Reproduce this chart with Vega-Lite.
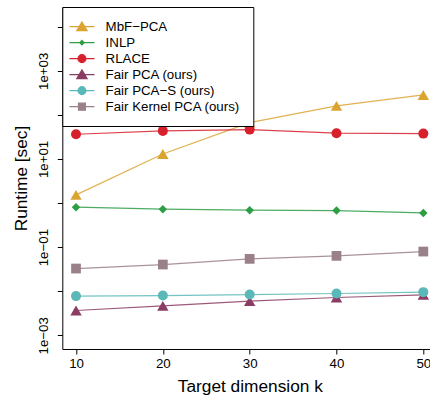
{
  "$schema": "https://vega.github.io/schema/vega-lite/v6.json",
  "width": 375,
  "height": 342,
  "autosize": {"type": "none"},
  "padding": {"left": 62.3, "top": 7, "right": 0, "bottom": 46},
  "background": "white",
  "config": {
    "view": {"stroke": null},
    "font": "Liberation Sans",
    "axis": {
      "domainColor": "black",
      "tickColor": "black",
      "domainWidth": 1,
      "tickWidth": 1,
      "tickSize": 5,
      "grid": false,
      "labelColor": "black",
      "labelFont": "Liberation Sans",
      "labelFontSize": 13.3,
      "titleColor": "black",
      "titleFont": "Liberation Sans",
      "titleFontSize": 17.3,
      "titleFontWeight": "normal",
      "labelFlush": false,
      "labelOverlap": false
    },
    "legend": {
      "padding": 13,
      "strokeColor": "black",
      "fillColor": "white",
      "cornerRadius": 0,
      "labelFont": "Liberation Sans",
      "labelFontSize": 13.3,
      "labelColor": "black",
      "labelOffset": 17,
      "rowPadding": 2,
      "symbolSize": 100,
      "symbolStrokeWidth": 1.1,
      "symbolOpacity": 1,
      "labelLimit": 300
    }
  },
  "data": {
    "values": [
      {"k": 10, "method": "MbF−PCA", "runtime": 1.53},
      {"k": 20, "method": "MbF−PCA", "runtime": 13.0},
      {"k": 30, "method": "MbF−PCA", "runtime": 66.7},
      {"k": 40, "method": "MbF−PCA", "runtime": 160},
      {"k": 50, "method": "MbF−PCA", "runtime": 283},
      {"k": 10, "method": "INLP", "runtime": 0.805},
      {"k": 20, "method": "INLP", "runtime": 0.726},
      {"k": 30, "method": "INLP", "runtime": 0.689},
      {"k": 40, "method": "INLP", "runtime": 0.675},
      {"k": 50, "method": "INLP", "runtime": 0.598},
      {"k": 10, "method": "RLACE", "runtime": 36.4},
      {"k": 20, "method": "RLACE", "runtime": 43.3},
      {"k": 30, "method": "RLACE", "runtime": 46.3},
      {"k": 40, "method": "RLACE", "runtime": 38.4},
      {"k": 50, "method": "RLACE", "runtime": 37.6},
      {"k": 10, "method": "Fair PCA (ours)", "runtime": 0.00365},
      {"k": 20, "method": "Fair PCA (ours)", "runtime": 0.00466},
      {"k": 30, "method": "Fair PCA (ours)", "runtime": 0.00596},
      {"k": 40, "method": "Fair PCA (ours)", "runtime": 0.0072},
      {"k": 50, "method": "Fair PCA (ours)", "runtime": 0.00828},
      {"k": 10, "method": "Fair PCA−S (ours)", "runtime": 0.00774},
      {"k": 20, "method": "Fair PCA−S (ours)", "runtime": 0.00798},
      {"k": 30, "method": "Fair PCA−S (ours)", "runtime": 0.0084},
      {"k": 40, "method": "Fair PCA−S (ours)", "runtime": 0.00887},
      {"k": 50, "method": "Fair PCA−S (ours)", "runtime": 0.00953},
      {"k": 10, "method": "Fair Kernel PCA (ours)", "runtime": 0.0327},
      {"k": 20, "method": "Fair Kernel PCA (ours)", "runtime": 0.0403},
      {"k": 30, "method": "Fair Kernel PCA (ours)", "runtime": 0.0542},
      {"k": 40, "method": "Fair Kernel PCA (ours)", "runtime": 0.0634},
      {"k": 50, "method": "Fair Kernel PCA (ours)", "runtime": 0.0794}
    ]
  },
  "encoding": {
    "x": {
      "field": "k",
      "type": "quantitative",
      "scale": {"domain": [8.42, 51.61], "nice": false, "zero": false},
      "axis": {
        "values": [10, 20, 30, 40, 50],
        "title": "Target dimension k",
        "labelPadding": 3,
        "titlePadding": 7
      }
    },
    "y": {
      "field": "runtime",
      "type": "quantitative",
      "scale": {"type": "log", "domain": [0.000489, 27990], "nice": false},
      "axis": {
        "values": [0.001, 0.01, 0.1, 1, 10, 100, 1000, 10000],
        "labelExpr": "datum.value < 0.002 ? '1e−03' : (datum.value > 0.05 && datum.value < 0.2) ? '1e−01' : (datum.value > 5 && datum.value < 20) ? '1e+01' : (datum.value > 500 && datum.value < 2000) ? '1e+03' : ''",
        "labelAngle": 270,
        "labelAlign": "center",
        "labelBaseline": "alphabetic",
        "labelPadding": 9.5,
        "title": "Runtime [sec]",
        "titlePadding": 6
      }
    }
  },
  "layer": [
    {
      "mark": {"type": "line", "strokeWidth": 1.2, "opacity": 0.85},
      "encoding": {
        "color": {
          "field": "method",
          "type": "nominal",
          "scale": {
            "domain": ["INLP", "MbF−PCA", "RLACE", "Fair PCA (ours)", "Fair PCA−S (ours)", "Fair Kernel PCA (ours)"],
            "range": ["#2E9E46", "#DBA431", "#D7202C", "#8B3C62", "#5AB8B8", "#9A8088"]
          },
          "legend": null
        }
      }
    },
    {
      "transform": [{"filter": {"field": "method", "oneOf": ["MbF−PCA", "Fair PCA (ours)"]}}],
      "mark": {"type": "point", "filled": true, "opacity": 1, "shape": "triangle-up", "size": 130},
      "encoding": {
        "color": {"field": "method", "type": "nominal", "legend": null}
      }
    },
    {
      "transform": [{"filter": {"field": "method", "oneOf": ["INLP"]}}],
      "mark": {"type": "point", "filled": true, "opacity": 1, "shape": "diamond", "size": 72},
      "encoding": {
        "color": {"field": "method", "type": "nominal", "legend": null}
      }
    },
    {
      "transform": [{"filter": {"field": "method", "oneOf": ["RLACE", "Fair PCA−S (ours)"]}}],
      "mark": {"type": "point", "filled": true, "opacity": 1, "shape": "circle", "size": 100},
      "encoding": {
        "color": {"field": "method", "type": "nominal", "legend": null}
      }
    },
    {
      "transform": [{"filter": {"field": "method", "oneOf": ["Fair Kernel PCA (ours)"]}}],
      "mark": {"type": "point", "filled": true, "opacity": 1, "shape": "square", "size": 95},
      "encoding": {
        "color": {"field": "method", "type": "nominal", "legend": null}
      }
    },
    {
      "mark": {"type": "point", "filled": true, "opacity": 0, "strokeWidth": 1.1},
      "encoding": {
        "fill": {
          "field": "method",
          "type": "nominal",
          "scale": {
            "domain": ["MbF−PCA", "INLP", "RLACE", "Fair PCA (ours)", "Fair PCA−S (ours)", "Fair Kernel PCA (ours)"],
            "range": ["#DBA431", "#2E9E46", "#D7202C", "#8B3C62", "#5AB8B8", "#9A8088"]
          },
          "legend": {"title": null, "orient": "top-left", "offset": 0}
        },
        "stroke": {
          "field": "method",
          "type": "nominal",
          "scale": {
            "domain": ["MbF−PCA", "INLP", "RLACE", "Fair PCA (ours)", "Fair PCA−S (ours)", "Fair Kernel PCA (ours)"],
            "range": ["#DBA431", "#2E9E46", "#D7202C", "#8B3C62", "#5AB8B8", "#9A8088"]
          },
          "legend": {"title": null, "orient": "top-left", "offset": 0}
        },
        "shape": {
          "field": "method",
          "type": "nominal",
          "scale": {
            "domain": ["MbF−PCA", "INLP", "RLACE", "Fair PCA (ours)", "Fair PCA−S (ours)", "Fair Kernel PCA (ours)"],
            "range": [
              "M-2.5,0H2.5M0,-0.95L1.05,0.8L-1.05,0.8Z",
              "M-2.5,0H2.5M0,-0.45L0.45,0L0,0.45L-0.45,0Z",
              "M-2.5,0H2.5M0.8,0A0.8,0.8,0,1,1,-0.8,0A0.8,0.8,0,1,1,0.8,0Z",
              "M-2.5,0H2.5M0,-0.95L1.05,0.8L-1.05,0.8Z",
              "M-2.5,0H2.5M0.8,0A0.8,0.8,0,1,1,-0.8,0A0.8,0.8,0,1,1,0.8,0Z",
              "M-2.5,0H2.5M-0.7,-0.7H0.7V0.7H-0.7Z"
            ]
          },
          "legend": {"title": null, "orient": "top-left", "offset": 0}
        }
      }
    }
  ]
}
